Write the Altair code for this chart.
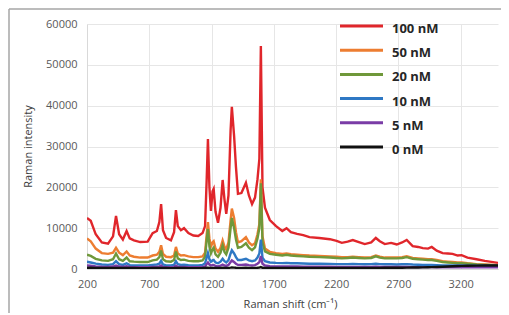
import altair as alt
import pandas as pd

shift = [200, 230, 270, 319, 369, 409, 433, 458, 488, 518, 543, 577, 627, 687, 727, 761, 781, 795, 810, 835,
         874, 899, 914, 929, 954, 979, 1014, 1054, 1093, 1128, 1148, 1161, 1171, 1183, 1195, 1208, 1217, 1232, 1252, 1272,
         1289, 1304, 1318, 1336, 1353, 1363, 1381, 1396, 1412, 1440, 1476, 1500, 1525, 1549, 1569, 1584, 1596, 1609, 1629, 1668,
         1718, 1768, 1802, 1837, 1887, 1936, 1986, 2065, 2150, 2204, 2246, 2293, 2334, 2383, 2430, 2482, 2519, 2551, 2591, 2641,
         2687, 2730, 2767, 2815, 2859, 2896, 2938, 2968, 3008, 3055, 3097, 3135, 3176, 3208, 3255, 3328, 3394, 3500]

nm100 = [12500, 11800, 8500, 6500, 6200, 8000, 13000, 8500, 7200, 9300,
         7500, 7000, 6600, 6700, 8800, 9300, 11500, 15900, 9500, 7600,
         7000, 9000, 14400, 10500, 9500, 10000, 8800, 8200, 8100, 8800,
         10500, 22000, 31800, 20000, 14200, 19000, 19600, 14000, 11300, 15000,
         21800, 17000, 13500, 18000, 34000, 39700, 32600, 25000, 18400, 18600,
         21100, 18000, 15900, 17500, 22000, 27000, 54600, 20000, 15000, 12000,
         10500, 9300, 10000, 9000, 8600, 8300, 7800, 7600, 7300, 6900,
         6400, 6700, 7100, 6600, 6100, 6500, 7600, 6800, 6100, 6400,
         6000, 6500, 7100, 5600, 5400, 5100, 5000, 5400, 4500, 3900,
         3800, 3700, 3300, 3400, 2800, 2400, 2000, 1500]

nm50 = [7500, 6800, 5000, 3900, 3700, 4000, 5200, 4000, 3400, 4300,
        3300, 3000, 2800, 2800, 3300, 3500, 4200, 5800, 3700, 3000,
        2900, 3300, 5400, 3800, 3300, 3400, 3100, 2900, 2900, 3100,
        4000, 8500, 11500, 7500, 5500, 6500, 6800, 5000, 4200, 5200,
        7000, 5500, 4800, 6500, 12000, 14800, 12500, 9000, 6500, 6800,
        7800, 6500, 5800, 6300, 8500, 11000, 22000, 8000, 5000, 4200,
        3900, 3700, 3800, 3600, 3500, 3400, 3300, 3200, 3100, 3000,
        2900, 2900, 3000, 2900, 2800, 2900, 3300, 3000, 2800, 2800,
        2800, 2900, 3100, 2700, 2600, 2500, 2400, 2400, 2200, 1900,
        1800, 1700, 1600, 1600, 1400, 1200, 1100, 900]

nm20 = [3500, 3200, 2500, 2100, 2000, 2400, 3800, 2400, 2000, 2800,
        1900, 1800, 1700, 1700, 2100, 2300, 2900, 4500, 2400, 1900,
        1800, 2200, 4300, 2600, 2200, 2300, 2000, 1900, 1900, 2100,
        3000, 7000, 9800, 5500, 3800, 4800, 5200, 3600, 3000, 4000,
        5800, 4200, 3600, 5200, 10000, 12500, 10000, 7200, 5200, 5400,
        6300, 5200, 4600, 5300, 7500, 10000, 21000, 6500, 4300, 3700,
        3500, 3300, 3500, 3300, 3200, 3100, 3000, 2900, 2800, 2700,
        2600, 2700, 2800, 2700, 2600, 2700, 3100, 2800, 2600, 2600,
        2600, 2700, 2900, 2500, 2400, 2300, 2200, 2200, 2000, 1700,
        1600, 1500, 1400, 1400, 1300, 1100, 1000, 900]

nm10 = [1800, 1600, 1300, 1100, 1000, 1200, 1900, 1200, 1000, 1400,
        950, 900, 850, 850, 1000, 1100, 1300, 2000, 1100, 900,
        850, 1000, 1900, 1200, 1000, 1050, 950, 900, 900, 1000,
        1400, 2800, 3900, 2400, 1800, 2100, 2200, 1600, 1400, 1800,
        2500, 1900, 1600, 2200, 3800, 4600, 3800, 2900, 2200, 2200,
        2500, 2100, 1900, 2100, 2800, 3800, 7200, 2800, 1900, 1600,
        1500, 1450, 1500, 1400, 1400, 1350, 1300, 1300, 1250, 1200,
        1200, 1200, 1250, 1200, 1150, 1200, 1300, 1200, 1150, 1150,
        1100, 1150, 1200, 1100, 1050, 1000, 1000, 1000, 950, 900,
        880, 860, 850, 850, 820, 800, 780, 750]

nm5 = [900, 800, 650, 550, 500, 600, 850, 600, 500, 650,
       480, 450, 430, 430, 480, 520, 600, 850, 520, 450,
       430, 480, 800, 560, 480, 500, 460, 440, 440, 480,
       650, 1200, 1600, 1100, 850, 950, 1000, 750, 650, 800,
       1100, 850, 750, 1000, 1700, 2100, 1700, 1300, 1000, 1000,
       1100, 950, 850, 950, 1300, 1700, 3200, 1300, 850, 700,
       650, 620, 640, 600, 600, 580, 560, 560, 540, 520,
       520, 520, 530, 520, 500, 510, 550, 510, 490, 490,
       480, 490, 510, 470, 460, 450, 450, 450, 440, 430,
       430, 420, 420, 420, 410, 400, 400, 390]

nm0 = [300, 290, 270, 250, 240, 250, 270, 250, 240, 250,
       230, 230, 220, 220, 230, 240, 250, 280, 240, 230,
       220, 230, 270, 240, 230, 230, 220, 220, 220, 230,
       250, 300, 340, 290, 260, 270, 280, 250, 240, 260,
       290, 260, 250, 270, 330, 380, 340, 300, 270, 270,
       290, 270, 260, 270, 300, 340, 480, 300, 260, 250,
       250, 250, 250, 250, 250, 250, 250, 250, 250, 250,
       260, 260, 260, 260, 270, 270, 280, 280, 290, 300,
       310, 320, 340, 360, 380, 400, 430, 460, 500, 560,
       620, 680, 730, 770, 800, 830, 850, 870]

labels = ["100 nM", "50 nM", "20 nM", "10 nM", "5 nM", "0 nM"]
colors = ["#e0262b", "#ed7d31", "#6f983a", "#2e78c4", "#7a3ca6", "#111111"]
x_ticks = [200, 700, 1200, 1700, 2200, 2700, 3200]
y_ticks = [0, 10000, 20000, 30000, 40000, 50000, 60000]

series = [nm100, nm50, nm20, nm10, nm5, nm0]
rows = []
for lab, vals in zip(labels, series):
    for i, (s, v) in enumerate(zip(shift, vals)):
        rows.append({"shift": s, "intensity": v, "conc": lab, "idx": i})
df = pd.DataFrame(rows)
legend_df = pd.DataFrame({"conc": labels, "rank": list(range(len(labels)))})

font = "Open Sans"
color_scale = alt.Scale(domain=labels, range=colors)

lines = alt.Chart(df).mark_line(strokeWidth=2.4, clip=True).encode(
    x=alt.X("shift:Q", scale=alt.Scale(domain=[200, 3500], nice=False, zero=False),
            axis=alt.Axis(values=x_ticks, title="Raman shift (cm⁻¹)", format="d",
                          labelColor="#595959", labelFontSize=11, labelFont=font,
                          labelPadding=9, labelFlush=False, ticks=False, domainColor="#d9d9d9",
                          gridColor="#e6e6e6", titleFont=font, titleFontSize=11,
                          titleFontWeight="normal", titleColor="#404040",
                          titleX=203, titleY=29, titleAnchor="middle")),
    y=alt.Y("intensity:Q", scale=alt.Scale(domain=[0, 60000], nice=False),
            axis=alt.Axis(values=y_ticks, title="Raman intensity", format="d",
                          labelColor="#595959", labelFontSize=11, labelFont=font,
                          labelPadding=10, labelFlush=False, ticks=False, domainColor="#d9d9d9",
                          gridColor="#e6e6e6", titleFont=font, titleFontSize=11,
                          titleFontWeight="normal", titleColor="#404040",
                          titleX=-59, titleY=122, titleBaseline="middle")),
    color=alt.Color("conc:N", scale=color_scale, legend=None),
    detail="conc:N",
    order="idx:Q",
)

leg_y = alt.Y("rank:Q", scale=alt.Scale(domain=[0, 5], range=[2, 123], nice=False, zero=False), axis=None)
leg_lines = alt.Chart(legend_df).mark_rule(strokeWidth=3).encode(
    x=alt.value(253), x2=alt.value(296), y=leg_y,
    color=alt.Color("conc:N", scale=color_scale, legend=None),
)
leg_text = alt.Chart(legend_df).mark_text(
    align="left", baseline="middle", dy=3, font=font, fontSize=13, fontWeight="bold", color="#262626"
).encode(x=alt.value(305), y=leg_y, text="conc:N")

frame_top = alt.Chart(pd.DataFrame({"a": [0]})).mark_rule(color="#a6a6a6", strokeWidth=1.5).encode(
    x=alt.value(-78), x2=alt.value(420), y=alt.value(-15))
frame_left = alt.Chart(pd.DataFrame({"a": [0]})).mark_rule(color="#a6a6a6", strokeWidth=1.5).encode(
    x=alt.value(-78), y=alt.value(-15), y2=alt.value(300))

legend_layer = alt.layer(leg_lines, leg_text)

chart = alt.layer(lines, legend_layer, frame_top, frame_left).resolve_scale(y="independent").properties(
    width=411, height=245,
    autosize=alt.AutoSizeParams(type="none"),
    padding={"left": 79, "top": 16, "right": 3, "bottom": 44},
).configure_view(stroke=None)

chart.save("out.html", embed_options={"renderer": "svg", "actions": False})
